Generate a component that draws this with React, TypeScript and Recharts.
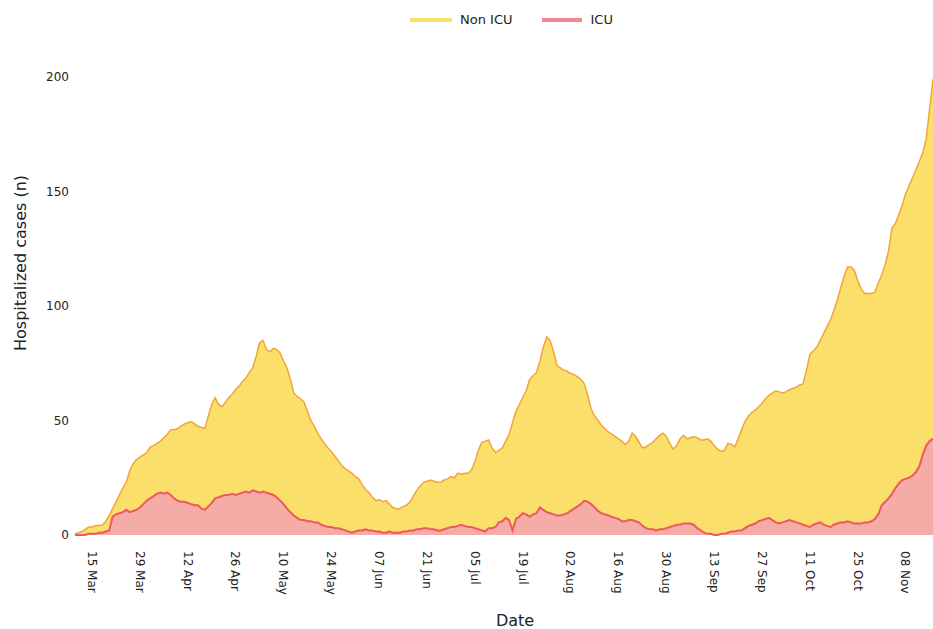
import React from "react";
import { AreaChart, Area, XAxis, YAxis, Label } from "recharts";

// Daily values from 10 Mar to 16 Nov
const nonIcu: number[] = [
  0.5, 1, 1.5, 2.5, 3.5, 3.5, 4, 4.2, 4.4, 6,
  8.5, 11.5, 14.5, 17.5, 20.5, 23, 28, 31, 33, 34,
  35, 36, 38.5, 39, 40, 41, 42.5, 44, 46, 46,
  46.5, 47.5, 48.5, 49, 49.5, 48.5, 47.5, 47, 46.5, 52,
  57, 60, 57, 56, 58, 60, 61.5, 63.5, 65, 67,
  68.5, 71, 73, 78, 84, 85, 81, 80, 81.5, 81,
  79.5, 76, 73, 68, 62, 60.5, 59.5, 58, 54, 50,
  47.5, 44.5, 42, 40, 38, 36.5, 34.5, 32.5, 30.5, 29,
  28, 27, 25.5, 24.5, 22, 20, 18.5, 16.5, 15, 15.5,
  14.5, 15, 13.5, 12, 11.5, 11.5, 12.5, 13, 14.5, 17,
  19.5, 21.5, 23, 23.5, 24, 23.5, 23, 23, 24, 24.5,
  25.5, 25, 27, 26.5, 27, 27, 28.5, 32, 37, 40.5,
  41, 41.5, 38, 36, 37, 38, 41, 44, 49, 54,
  57, 60, 63, 68, 69.5, 71, 76, 82, 86.5, 85,
  80, 74, 73, 72, 71.5, 70.5, 70, 69, 68, 66,
  61, 55, 52, 50, 48, 46.5, 45, 44, 43, 42,
  41, 39.5, 41, 44.5, 43, 40.5, 38, 38.5, 39.5, 40.5,
  42, 43.5, 44.5, 43, 40, 37.5, 39, 42, 43.5, 42,
  42.5, 43, 42.5, 41.5, 41.5, 42, 41, 39, 37.5, 36.5,
  37, 40, 39.5, 38.5, 42, 46, 49.5, 52, 53.5, 54.5,
  56, 57.5, 59.5, 61, 62, 63, 62.5, 62, 62.5, 63.5,
  64, 64.5, 65.5, 66, 72, 79, 80.5, 82, 85, 88,
  91, 94, 98, 102.5, 108, 113, 117, 117, 115.5, 111,
  107.5, 105.5, 105.5, 105.5, 106, 110, 113.5, 118, 124, 134,
  136, 140, 144, 149, 152.5, 156, 159.5, 163, 167, 173,
  186, 199,
];

const icu: number[] = [
  0, 0, 0, 0, 0.5, 0.5, 0.5, 1, 1, 1.5,
  2, 8, 9, 9.5, 10, 11, 10, 10.5, 11, 12,
  13.5, 15, 16, 17, 18, 18.5, 18, 18.5, 17.5, 16,
  15, 14.5, 14.5, 14, 13.5, 13, 13, 11.5, 11, 12.5,
  14, 16, 16.5, 17, 17.5, 17.5, 18, 17.5, 18, 18.5,
  19, 18.5, 19.5, 19, 18.5, 19, 18.5, 18, 17.5, 16.5,
  15, 13.5, 11.5, 10, 8.5, 7.5, 6.5, 6.5, 6, 6,
  5.5, 5.5, 4.5, 4, 3.5, 3.5, 3, 3, 2.5, 2,
  1.5, 1, 1.5, 2, 2, 2.5, 2, 2, 1.5, 1.5,
  1, 1, 1.5, 1, 1, 1, 1.5, 1.5, 2, 2,
  2.5, 2.5, 3, 3, 2.5, 2.5, 2, 2, 2.5, 3,
  3.5, 3.5, 4, 4.5, 4, 3.5, 3.5, 3, 2.5, 2,
  1.5, 3, 3, 3.5, 5.5, 6, 7.5, 6.5, 2, 7,
  8, 9.5, 9, 8, 9, 9.5, 12, 11, 10, 9.5,
  9, 8.5, 8.5, 9, 9.5, 10.5, 11.5, 12.5, 13.5, 15,
  14.5, 13.5, 12, 10.5, 9.5, 9, 8.5, 8, 7.5, 7,
  6, 6, 6.5, 6.5, 6, 5.5, 4, 3, 2.5, 2.5,
  2, 2.5, 2.5, 3, 3.5, 4, 4.5, 4.5, 5, 5,
  5, 4.5, 3, 2, 1, 0.5, 0.5, 0, 0, 0.5,
  0.5, 1, 1.5, 1.5, 2, 2, 3, 4, 4.5, 5,
  6, 6.5, 7, 7.5, 6.5, 5.5, 5, 5.5, 6, 6.5,
  6, 5.5, 5, 4.5, 4, 3.5, 4.5, 5, 5.5, 4.5,
  4, 3.5, 4.5, 5, 5.5, 5.5, 6, 5.5, 5, 5,
  5, 5.5, 5.5, 6, 7, 9, 13, 14.5, 16, 18,
  20.5, 22.5, 24, 24.5, 25, 26, 27.5, 30, 35, 39,
  41, 42,
];

const monthNames = ["Mar", "Apr", "May", "Jun", "Jul", "Aug", "Sep", "Oct", "Nov"];
const monthLengths = [31, 30, 31, 30, 31, 31, 30, 31, 30];
const startDay = 10;

const tickLabels = [
  "15 Mar", "29 Mar", "12 Apr", "26 Apr", "10 May", "24 May", "07 Jun", "21 Jun", "05 Jul",
  "19 Jul", "02 Aug", "16 Aug", "30 Aug", "13 Sep", "27 Sep", "11 Oct", "25 Oct", "08 Nov",
];

const yTicks = [0, 50, 100, 150, 200];

const dates: string[] = [];
{
  let m = 0;
  let d = startDay;
  for (let i = 0; i < nonIcu.length; i++) {
    dates.push(`${d < 10 ? "0" + d : d} ${monthNames[m]}`);
    d++;
    if (d > monthLengths[m]) {
      d = 1;
      m++;
    }
  }
}

const data = dates.map((date, i) => ({ date, nonIcu: nonIcu[i], icu: icu[i] }));

const FONT = "'DejaVu Sans', sans-serif";

const RotTick = (props: any) => {
  const { x, y, payload } = props;
  return (
    <g transform={`translate(${x},${y + 8})`}>
      <text
        transform="rotate(90)"
        textAnchor="start"
        dy="0.35em"
        fontSize={12}
        fontFamily={FONT}
        fill="#222"
      >
        {payload.value}
      </text>
    </g>
  );
};

export default function App() {
  return (
    <div style={{ position: "absolute", left: 0, top: 0, width: 933, height: 629, background: "#fff" }}>
      <div
        style={{
          position: "absolute",
          left: 410,
          top: 12,
          display: "flex",
          alignItems: "center",
          fontFamily: FONT,
          fontSize: 13,
          color: "#222",
          zIndex: 2,
        }}
      >
        <span style={{ display: "inline-block", width: 42, height: 4, background: "#F9E266", marginRight: 8 }} />
        <span style={{ marginRight: 30 }}>Non ICU</span>
        <span style={{ display: "inline-block", width: 40, height: 4, background: "#F08A8E", marginRight: 8 }} />
        <span>ICU</span>
      </div>
      <AreaChart
        width={933}
        height={629}
        data={data}
        margin={{ top: 77, right: 0, left: 0, bottom: 0 }}
      >
        <XAxis
          dataKey="date"
          ticks={tickLabels}
          interval={0}
          tick={<RotTick />}
          tickLine={false}
          axisLine={false}
          height={94}
        >
          <Label
            content={() => (
              <text x={515} y={626} textAnchor="middle" fontSize={16} fontFamily={FONT} fill="#222">
                Date
              </text>
            )}
          />
        </XAxis>
        <YAxis
          domain={[0, 200]}
          ticks={yTicks}
          width={75}
          tickLine={false}
          axisLine={false}
          tickSize={0}
          tickMargin={6}
          tick={{ fontSize: 12, fontFamily: FONT, fill: "#222" }}
        >
          <Label
            content={() => (
              <text
                x={20}
                y={263}
                transform="rotate(-90 20 263)"
                textAnchor="middle"
                dominantBaseline="central"
                fontSize={16}
                fontFamily={FONT}
                fill="#222"
              >
                Hospitalized cases (n)
              </text>
            )}
          />
        </YAxis>
        <Area
          type="linear"
          dataKey="nonIcu"
          name="Non ICU"
          stroke="#F2A53A"
          strokeWidth={1.5}
          fill="#FAE06A"
          fillOpacity={1}
          isAnimationActive={false}
        />
        <Area
          type="linear"
          dataKey="icu"
          name="ICU"
          stroke="#EC5A60"
          strokeWidth={2}
          fill="#F5ABA6"
          fillOpacity={1}
          isAnimationActive={false}
        />
      </AreaChart>
    </div>
  );
}
